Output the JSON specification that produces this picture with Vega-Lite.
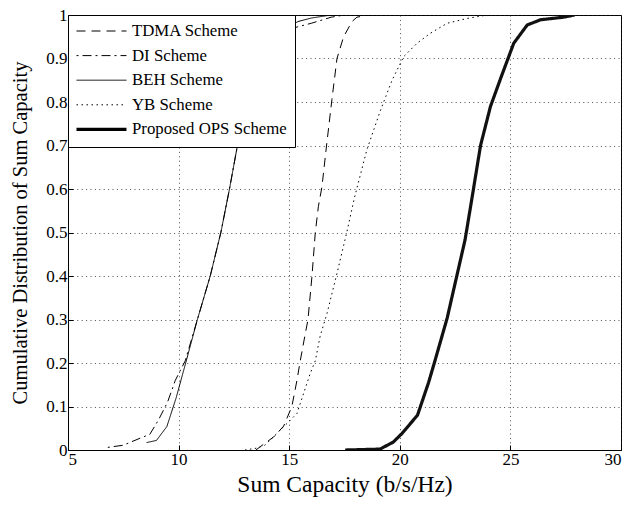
{
  "$schema": "https://vega.github.io/schema/vega-lite/v6.json",
  "width": 553,
  "height": 435,
  "autosize": {"type": "none"},
  "padding": {"left": 68, "top": 15, "right": 9, "bottom": 55},
  "background": "white",
  "config": {
    "font": "Liberation Serif",
    "view": {"stroke": "black", "strokeWidth": 1},
    "axis": {
      "labelFont": "Liberation Serif",
      "titleFont": "Liberation Serif",
      "labelColor": "black",
      "titleColor": "black",
      "titleFontWeight": "normal",
      "domainColor": "black",
      "tickColor": "black",
      "gridColor": "#222222",
      "gridDash": [1, 3.4],
      "gridWidth": 0.8
    },
    "legend": {
      "title": null,
      "orient": "top-left",
      "offset": 0,
      "fillColor": "white",
      "strokeColor": "black",
      "padding": 8,
      "rowPadding": 7.6,
      "clipHeight": 16,
      "symbolType": "stroke",
      "symbolSize": 2500,
      "symbolStrokeColor": "black",
      "labelFont": "Liberation Serif",
      "labelFontSize": 16.8,
      "labelColor": "black",
      "labelOffset": 5,
      "labelLimit": 300
    }
  },
  "data": {
    "values": [
      {"series": "TDMA Scheme", "x": 13.5, "y": 0},
      {"series": "TDMA Scheme", "x": 13.7, "y": 0.008},
      {"series": "TDMA Scheme", "x": 14.3, "y": 0.03},
      {"series": "TDMA Scheme", "x": 14.75, "y": 0.055},
      {"series": "TDMA Scheme", "x": 15.12, "y": 0.1},
      {"series": "TDMA Scheme", "x": 15.35, "y": 0.16},
      {"series": "TDMA Scheme", "x": 15.5, "y": 0.205},
      {"series": "TDMA Scheme", "x": 15.7, "y": 0.26},
      {"series": "TDMA Scheme", "x": 15.85, "y": 0.3},
      {"series": "TDMA Scheme", "x": 16.03, "y": 0.4},
      {"series": "TDMA Scheme", "x": 16.18, "y": 0.5},
      {"series": "TDMA Scheme", "x": 16.32, "y": 0.56},
      {"series": "TDMA Scheme", "x": 16.48, "y": 0.605},
      {"series": "TDMA Scheme", "x": 16.7, "y": 0.705},
      {"series": "TDMA Scheme", "x": 16.93, "y": 0.805},
      {"series": "TDMA Scheme", "x": 17.16, "y": 0.9},
      {"series": "TDMA Scheme", "x": 17.46, "y": 0.95},
      {"series": "TDMA Scheme", "x": 17.84, "y": 0.985},
      {"series": "TDMA Scheme", "x": 18.06, "y": 0.995},
      {"series": "TDMA Scheme", "x": 18.6, "y": 1},

      {"series": "DI Scheme", "x": 6.8, "y": 0.006},
      {"series": "DI Scheme", "x": 7.5, "y": 0.011},
      {"series": "DI Scheme", "x": 8.3, "y": 0.028},
      {"series": "DI Scheme", "x": 8.7, "y": 0.036},
      {"series": "DI Scheme", "x": 9.1, "y": 0.07},
      {"series": "DI Scheme", "x": 9.5, "y": 0.11},
      {"series": "DI Scheme", "x": 9.85, "y": 0.16},
      {"series": "DI Scheme", "x": 10.3, "y": 0.205},
      {"series": "DI Scheme", "x": 10.85, "y": 0.3},
      {"series": "DI Scheme", "x": 11.43, "y": 0.4},
      {"series": "DI Scheme", "x": 11.91, "y": 0.5},
      {"series": "DI Scheme", "x": 12.3, "y": 0.6},
      {"series": "DI Scheme", "x": 12.66, "y": 0.7},
      {"series": "DI Scheme", "x": 13.05, "y": 0.8},
      {"series": "DI Scheme", "x": 13.5, "y": 0.88},
      {"series": "DI Scheme", "x": 14.0, "y": 0.93},
      {"series": "DI Scheme", "x": 14.8, "y": 0.965},
      {"series": "DI Scheme", "x": 16.0, "y": 0.981},
      {"series": "DI Scheme", "x": 16.9, "y": 0.995},
      {"series": "DI Scheme", "x": 17.5, "y": 1},

      {"series": "BEH Scheme", "x": 8.55, "y": 0.017},
      {"series": "BEH Scheme", "x": 9.0, "y": 0.022},
      {"series": "BEH Scheme", "x": 9.47, "y": 0.054},
      {"series": "BEH Scheme", "x": 9.89, "y": 0.12},
      {"series": "BEH Scheme", "x": 10.32, "y": 0.2},
      {"series": "BEH Scheme", "x": 10.85, "y": 0.3},
      {"series": "BEH Scheme", "x": 11.43, "y": 0.4},
      {"series": "BEH Scheme", "x": 11.91, "y": 0.5},
      {"series": "BEH Scheme", "x": 12.3, "y": 0.6},
      {"series": "BEH Scheme", "x": 12.66, "y": 0.7},
      {"series": "BEH Scheme", "x": 13.05, "y": 0.8},
      {"series": "BEH Scheme", "x": 13.5, "y": 0.88},
      {"series": "BEH Scheme", "x": 14.0, "y": 0.93},
      {"series": "BEH Scheme", "x": 14.7, "y": 0.965},
      {"series": "BEH Scheme", "x": 15.4, "y": 0.985},
      {"series": "BEH Scheme", "x": 16.0, "y": 0.993},
      {"series": "BEH Scheme", "x": 16.9, "y": 1},

      {"series": "YB Scheme", "x": 13.0, "y": 0},
      {"series": "YB Scheme", "x": 13.5, "y": 0.004},
      {"series": "YB Scheme", "x": 13.9, "y": 0.011},
      {"series": "YB Scheme", "x": 14.44, "y": 0.038},
      {"series": "YB Scheme", "x": 14.9, "y": 0.061},
      {"series": "YB Scheme", "x": 15.35, "y": 0.084},
      {"series": "YB Scheme", "x": 15.65, "y": 0.13},
      {"series": "YB Scheme", "x": 15.95, "y": 0.176},
      {"series": "YB Scheme", "x": 16.18, "y": 0.205},
      {"series": "YB Scheme", "x": 16.4, "y": 0.262},
      {"series": "YB Scheme", "x": 16.71, "y": 0.314},
      {"series": "YB Scheme", "x": 17.16, "y": 0.406},
      {"series": "YB Scheme", "x": 17.61, "y": 0.502},
      {"series": "YB Scheme", "x": 17.95, "y": 0.58},
      {"series": "YB Scheme", "x": 18.51, "y": 0.69},
      {"series": "YB Scheme", "x": 19.12, "y": 0.78},
      {"series": "YB Scheme", "x": 19.65, "y": 0.85},
      {"series": "YB Scheme", "x": 20.17, "y": 0.904},
      {"series": "YB Scheme", "x": 20.78, "y": 0.935},
      {"series": "YB Scheme", "x": 21.38, "y": 0.958},
      {"series": "YB Scheme", "x": 22.14, "y": 0.981},
      {"series": "YB Scheme", "x": 23.04, "y": 0.992},
      {"series": "YB Scheme", "x": 23.95, "y": 1},
      {"series": "YB Scheme", "x": 25.0, "y": 1},

      {"series": "Proposed OPS Scheme", "x": 17.53, "y": 0},
      {"series": "Proposed OPS Scheme", "x": 19.1, "y": 0.002},
      {"series": "Proposed OPS Scheme", "x": 19.7, "y": 0.018},
      {"series": "Proposed OPS Scheme", "x": 20.1, "y": 0.038},
      {"series": "Proposed OPS Scheme", "x": 20.8, "y": 0.08},
      {"series": "Proposed OPS Scheme", "x": 21.3, "y": 0.155},
      {"series": "Proposed OPS Scheme", "x": 21.6, "y": 0.207},
      {"series": "Proposed OPS Scheme", "x": 22.14, "y": 0.303},
      {"series": "Proposed OPS Scheme", "x": 22.5, "y": 0.383},
      {"series": "Proposed OPS Scheme", "x": 22.95, "y": 0.483},
      {"series": "Proposed OPS Scheme", "x": 23.25, "y": 0.575},
      {"series": "Proposed OPS Scheme", "x": 23.65, "y": 0.7},
      {"series": "Proposed OPS Scheme", "x": 24.1, "y": 0.79},
      {"series": "Proposed OPS Scheme", "x": 24.6, "y": 0.86},
      {"series": "Proposed OPS Scheme", "x": 25.15, "y": 0.935},
      {"series": "Proposed OPS Scheme", "x": 25.76, "y": 0.977},
      {"series": "Proposed OPS Scheme", "x": 26.36, "y": 0.989},
      {"series": "Proposed OPS Scheme", "x": 27.4, "y": 0.995},
      {"series": "Proposed OPS Scheme", "x": 27.9, "y": 1}
    ]
  },
  "encoding": {
    "x": {
      "field": "x",
      "type": "quantitative",
      "scale": {"domain": [5, 30], "nice": false, "zero": false},
      "axis": {
        "title": "Sum Capacity (b/s/Hz)",
        "values": [5, 10, 15, 20, 25, 30],
        "labelFontSize": 17,
        "titleFontSize": 23.5,
        "tickSize": -5,
        "labelPadding": 6,
        "titlePadding": 5
      }
    },
    "y": {
      "field": "y",
      "type": "quantitative",
      "scale": {"domain": [0, 1], "nice": false},
      "axis": {
        "title": "Cumulative Distribution of Sum Capacity",
        "values": [0, 0.1, 0.2, 0.3, 0.4, 0.5, 0.6, 0.7, 0.8, 0.9, 1],
        "format": "~g",
        "labelFontSize": 17,
        "titleFontSize": 20.5,
        "tickSize": -5,
        "labelPadding": 6,
        "titlePadding": 15
      }
    },
    "strokeDash": {
      "field": "series",
      "type": "nominal",
      "scale": {
        "domain": ["TDMA Scheme", "DI Scheme", "BEH Scheme", "YB Scheme", "Proposed OPS Scheme"],
        "range": [[9, 6], [2, 4, 9, 4], [1, 0], [1.5, 3.5], [1, 0]]
      },
      "legend": {
        "encode": {
          "symbols": {
            "update": {
              "strokeWidth": {"signal": "(datum.value === 'Proposed OPS Scheme' ? 3.2 : 1)"}
            }
          }
        }
      }
    }
  },
  "layer": [
    {
      "transform": [{"filter": "datum.series !== 'Proposed OPS Scheme'"}],
      "mark": {"type": "line", "color": "black", "strokeWidth": 1, "clip": true}
    },
    {
      "transform": [{"filter": "datum.series === 'Proposed OPS Scheme'"}],
      "mark": {"type": "line", "color": "#111111", "strokeWidth": 3.2, "clip": true}
    }
  ]
}
